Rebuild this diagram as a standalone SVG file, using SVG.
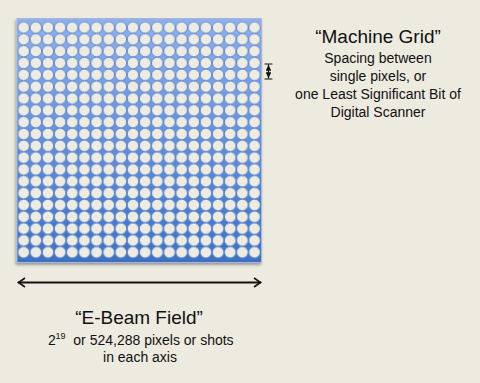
<svg xmlns="http://www.w3.org/2000/svg" width="480" height="383" viewBox="0 0 480 383">
  <style>
    text { font-family: "Liberation Sans", Arial, sans-serif; fill: #111; }
    .title { font-size: 19px; text-anchor: middle; }
    .body { font-size: 14px; text-anchor: middle; }
    .arrow { stroke: #111; fill: none; stroke-linecap: round; }
  </style>
  <defs>
    <linearGradient id="blue" x1="0" y1="0" x2="0" y2="1">
      <stop offset="0" stop-color="#8fb0ee"/>
      <stop offset="0.5" stop-color="#628fdb"/>
      <stop offset="1" stop-color="#3c70c4"/>
    </linearGradient>
    <pattern id="dots" patternUnits="userSpaceOnUse" x="17.6" y="21.6" width="12.15" height="11.83">
      <circle cx="6.075" cy="5.915" r="5.7" fill="#eeebe1" stroke="#5381cd" stroke-width="0.8"/>
    </pattern>
    <filter id="shadow" x="-10%" y="-10%" width="120%" height="120%">
      <feDropShadow dx="-1" dy="2" stdDeviation="1.5" flood-color="#000" flood-opacity="0.35"/>
    </filter>
    <marker id="chev" viewBox="-1 -6 10 12" refX="7" refY="0" markerWidth="5" markerHeight="6" markerUnits="strokeWidth" orient="auto-start-reverse">
      <path d="M0.5,-4.5 L7,0 L0.5,4.5" fill="none" stroke="#111" stroke-width="1.6" stroke-linejoin="miter"/>
    </marker>
    <marker id="tri" viewBox="0 -3 6 6" refX="6" refY="0" markerWidth="4.5" markerHeight="4.5" markerUnits="strokeWidth" orient="auto-start-reverse">
      <path d="M0,-3 L6,0 L0,3 Z" fill="#111"/>
    </marker>
  </defs>
  <rect width="480" height="383" fill="#edeae0"/>

  <g id="grid">
    <rect x="17" y="18.5" width="244.5" height="244" fill="url(#blue)" stroke="#a6b8d8" stroke-width="1" filter="url(#shadow)"/>
    <rect x="17.6" y="21.6" width="243" height="236.6" fill="url(#dots)"/>
  </g>

  <g id="machine-grid-label">
    <text class="title" x="378" y="42.5">“Machine Grid”</text>
    <text class="body" x="378" y="62.5">Spacing between</text>
    <text class="body" x="378" y="80.5">single pixels, or</text>
    <text class="body" x="378" y="98.5">one Least Significant Bit of</text>
    <text class="body" x="378" y="116.5">Digital Scanner</text>
  </g>

  <g id="e-beam-label">
    <text class="title" x="139" y="324.3">“E-Beam Field”</text>
    <text x="48" y="344.5" style="font-size:14px">2</text>
    <text x="55.5" y="338.5" style="font-size:9px">19</text>
    <text x="73.3" y="344.5" style="font-size:14px">or 524,288 pixels or shots</text>
    <text class="body" x="140" y="361.5">in each axis</text>
  </g>

  <g id="connectors">
    <line class="arrow" x1="18.5" y1="282.5" x2="260.5" y2="282.5" stroke-width="2" marker-start="url(#chev)" marker-end="url(#chev)"/>
    <line class="arrow" x1="265" y1="64" x2="272" y2="64" stroke-width="1.2"/>
    <line class="arrow" x1="265" y1="79" x2="272" y2="79" stroke-width="1.2"/>
    <line class="arrow" x1="268.5" y1="65" x2="268.5" y2="78" stroke-width="1.3" marker-start="url(#tri)" marker-end="url(#tri)"/>
  </g>
</svg>
